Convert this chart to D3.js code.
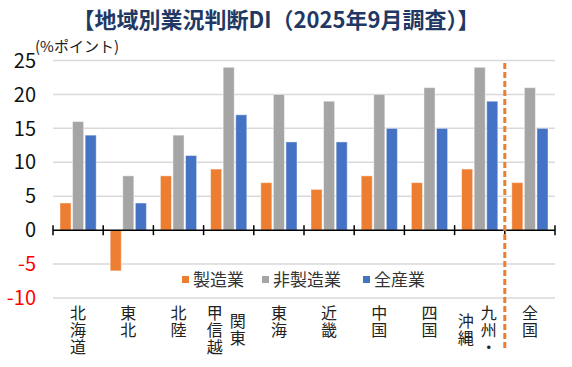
<!DOCTYPE html>
<html>
<head>
<meta charset="utf-8">
<script src="https://cdn.jsdelivr.net/npm/d3@7"></script>
<style>
  body { margin: 0; background: #fff; }
  text { font-family: "Noto Sans CJK JP", "Noto Sans", sans-serif; }
</style>
</head>
<body>
<div id="chart"></div>
<script>
// data
var regions = ["北海道", "東北", "北陸", "関東甲信越", "東海", "近畿", "中国", "四国", "九州・沖縄", "全国"];
// vertical labels: columns, right to left
var labelCols = [["北海道"], ["東北"], ["北陸"], ["関東", "甲信越"], ["東海"], ["近畿"], ["中国"], ["四国"], ["九州・", "沖縄"], ["全国"]];
var seriesNames = ["製造業", "非製造業", "全産業"];
var manufacturing = [4, -6, 8, 9, 7, 6, 8, 7, 9, 7];
var nonManufacturing = [16, 8, 14, 24, 20, 19, 20, 21, 24, 21];
var allIndustries = [14, 4, 11, 17, 13, 13, 15, 15, 19, 15];
var yTicks = [-10, -5, 0, 5, 10, 15, 20, 25];
var colors = ["#ED7D31", "#A5A5A5", "#4472C4"];

var width = 572, height = 367;
var margin = {top: 60, right: 17, bottom: 69, left: 53};

var svg = d3.select("#chart").append("svg")
    .attr("width", width)
    .attr("height", height);

// title
svg.append("text")
    .attr("x", 276)
    .attr("y", 28)
    .attr("text-anchor", "middle")
    .style("font-size", "22px")
    .style("font-weight", "bold")
    .attr("fill", "#1F3864")
    .text("【地域別業況判断DI（2025年9月調査）】");

// unit label
svg.append("text")
    .attr("x", 35)
    .attr("y", 52)
    .style("font-size", "15px")
    .attr("fill", "#222")
    .text("(%ポイント)");

var x0 = d3.scaleBand()
    .domain(regions)
    .range([margin.left, width - margin.right]);

var x1 = d3.scaleBand()
    .domain(seriesNames)
    .range([7, x0.bandwidth() - 7])
    .paddingInner(0.12);

var y = d3.scaleLinear()
    .domain([-10, 25])
    .range([298, 60.5]);

// gridlines
svg.append("g")
  .selectAll("line")
  .data(yTicks.filter(function(d) { return d !== 0; }))
  .enter()
  .append("line")
    .attr("x1", margin.left)
    .attr("x2", width - margin.right)
    .attr("y1", function(d) { return y(d); })
    .attr("y2", function(d) { return y(d); })
    .attr("stroke", "#d9d9d9")
    .attr("stroke-width", 1.5);

// y labels
svg.append("g")
  .selectAll("text")
  .data(yTicks)
  .enter()
  .append("text")
    .attr("x", 36)
    .attr("y", function(d) { return y(d); })
    .attr("dy", "0.36em")
    .attr("text-anchor", "end")
    .style("font-size", "20px")
    .attr("fill", function(d) { return d < 0 ? "#FF0000" : "#111"; })
    .text(function(d) { return d; });

// bars
var table = regions.map(function(r, i) {
  return {region: r, values: [manufacturing[i], nonManufacturing[i], allIndustries[i]]};
});

svg.append("g")
  .selectAll("g")
  .data(table)
  .enter()
  .append("g")
    .attr("transform", function(d) { return "translate(" + x0(d.region) + ",0)"; })
  .selectAll("rect")
  .data(function(d) { return d.values.map(function(v, j) { return {key: seriesNames[j], value: v, idx: j}; }); })
  .enter()
  .append("rect")
    .attr("x", function(d) { return x1(d.key); })
    .attr("width", x1.bandwidth())
    .attr("y", function(d) { return y(Math.max(0, d.value)); })
    .attr("height", function(d) { return Math.abs(y(d.value) - y(0)); })
    .attr("fill", function(d) { return colors[d.idx]; })
    .attr("stroke", "#fff")
    .attr("stroke-opacity", 0.45)
    .attr("stroke-width", 1);

// zero axis with ticks
svg.append("line")
    .attr("x1", margin.left)
    .attr("x2", width - margin.right)
    .attr("y1", y(0))
    .attr("y2", y(0))
    .attr("stroke", "#000")
    .attr("stroke-width", 1.5);

var boundaries = regions.map(function(r) { return x0(r); }).concat([width - margin.right]);
svg.append("g")
  .selectAll("line")
  .data(boundaries)
  .enter()
  .append("line")
    .attr("x1", function(d) { return d; })
    .attr("x2", function(d) { return d; })
    .attr("y1", y(0) - 5)
    .attr("y2", y(0) + 5)
    .attr("stroke", "#000")
    .attr("stroke-width", 1.5);

// legend
var legendX = [182, 262, 363];
var legend = svg.append("g")
  .selectAll("g")
  .data(seriesNames)
  .enter()
  .append("g")
    .attr("transform", function(d, i) { return "translate(" + legendX[i] + ",276)"; });
legend.append("rect")
    .attr("width", 7)
    .attr("height", 7)
    .attr("fill", function(d, i) { return colors[i]; });
legend.append("text")
    .attr("x", 11)
    .attr("y", 10)
    .style("font-size", "17px")
    .attr("fill", "#333")
    .text(function(d) { return d; });

// x labels (vertical writing)
var charH = 16.8, labelTop = 305;
svg.append("g")
  .selectAll("g")
  .data(regions)
  .enter()
  .append("g")
  .each(function(r, i) {
    var cols = labelCols[i];
    var cx = x0(r) + x0.bandwidth() / 2;
    var maxLen = d3.max(cols, function(c) { return c.length; });
    var g = d3.select(this);
    cols.forEach(function(col, k) {
      var colX = cols.length === 1 ? cx : (k === 0 ? cx + 9 : cx - 14);
      var offset = (maxLen - col.length) * charH / 2;
      g.append("text")
        .attr("x", colX)
        .attr("y", labelTop + offset)
        .style("writing-mode", "vertical-rl")
        .style("text-orientation", "upright")
        .style("font-size", "16px")
        .style("letter-spacing", "0.8px")
        .attr("fill", "#222")
        .text(col);
    });
  });

// dashed divider before 全国
svg.append("line")
    .attr("x1", x0("全国"))
    .attr("x2", x0("全国"))
    .attr("y1", 63)
    .attr("y2", 350)
    .attr("stroke", "#ED7D31")
    .attr("stroke-width", 3)
    .attr("stroke-dasharray", "6,3");
</script>
</body>
</html>
